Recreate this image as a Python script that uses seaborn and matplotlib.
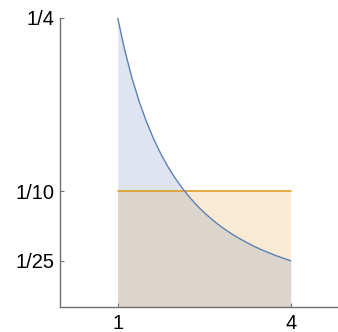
import matplotlib
matplotlib.use("Agg")
import matplotlib.pyplot as plt
import seaborn as sns
import numpy as np
import pandas as pd

# Curve values
curve_x = [1.0, 1.125, 1.25, 1.375, 1.5, 1.625, 1.75, 1.875, 2.0, 2.125, 2.25, 2.375,
           2.5, 2.625, 2.75, 2.875, 3.0, 3.125, 3.25, 3.375, 3.5, 3.625, 3.75, 3.875, 4.0]
curve_y = [0.25, 0.2215, 0.1975, 0.1773, 0.16, 0.1451, 0.1322, 0.1210, 0.1111, 0.1024,
           0.0947, 0.0878, 0.0816, 0.0761, 0.0711, 0.0666, 0.0625, 0.0588, 0.0554,
           0.0522, 0.0494, 0.0468, 0.0443, 0.0421, 0.04]
level_x = [1.0, 4.0]
level_y = [0.1, 0.1]

x_ticks = [1, 4]
x_labels = ["1", "4"]
y_ticks = [0.25, 0.1, 0.04]
y_labels = ["1/4", "1/10", "1/25"]

blue = "#5E81B5"
orange = "#E19C24"

sns.set_theme(style="white")
plt.rcParams['font.family'] = ['Liberation Sans', 'DejaVu Sans']

fig = plt.figure(figsize=(3.38, 3.32), dpi=100)
ax = fig.add_axes([60/338, 25/332, 277/338, 289/332])

df_c = pd.DataFrame({"x": curve_x, "y": curve_y})
df_l = pd.DataFrame({"x": level_x, "y": level_y})

ax.fill_between(df_l["x"], df_l["y"], 0, color=orange, alpha=0.2, linewidth=0)
ax.fill_between(df_c["x"], df_c["y"], 0, color=blue, alpha=0.2, linewidth=0)
sns.lineplot(data=df_l, x="x", y="y", ax=ax, color=orange, linewidth=1.2)
sns.lineplot(data=df_c, x="x", y="y", ax=ax, color=blue, linewidth=1.0)

ax.set_xlim(0, 4.8)
ax.set_ylim(0, 0.25)
ax.set_xticks(x_ticks)
ax.set_xticklabels(x_labels)
ax.set_yticks(y_ticks)
ax.set_yticklabels(y_labels)
ax.set_xlabel("")
ax.set_ylabel("")

for s in ["top", "right"]:
    ax.spines[s].set_visible(False)
for s in ["left", "bottom"]:
    ax.spines[s].set_color("#707070")
    ax.spines[s].set_linewidth(1.0)

ax.tick_params(axis="both", direction="in", length=3, width=0.8, color="#707070",
               labelsize=14.5, labelcolor="black", pad=4)
ax.tick_params(axis="x", pad=5)
ax.tick_params(axis="both", which="both", bottom=True, left=True)
ax.grid(False)
ax.set_facecolor("white")

fig.savefig("out.png", dpi=100)
